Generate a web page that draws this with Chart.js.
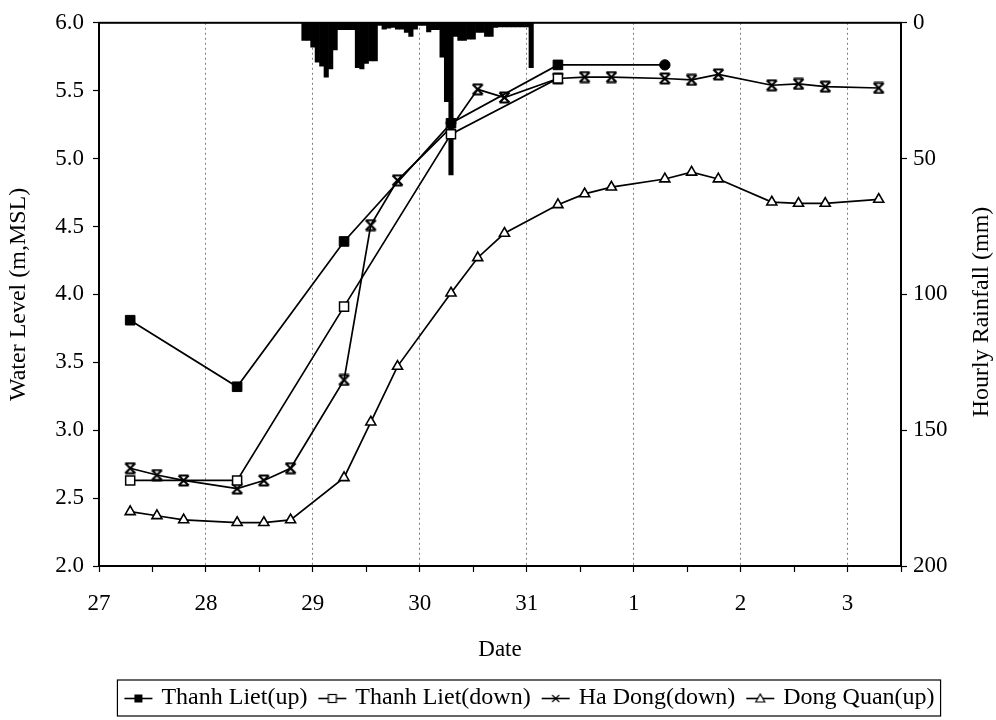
<!DOCTYPE html>
<html><head><meta charset="utf-8">
<script src="https://cdn.jsdelivr.net/npm/chart.js@4.4.0/dist/chart.umd.min.js"></script>
<style>html,body{margin:0;padding:0;background:#fff}#wrap{width:996px;height:720px}</style>
</head><body><div id="wrap"><canvas id="c" width="996" height="720"></canvas></div>
<script>
// ---- data (x in hours after 27th 00:00) ----
const dayLabels = ['27', '28', '29', '30', '31', '1', '2', '3'];
const seriesNames = ['Thanh Liet(up)', 'Thanh Liet(down)', 'Ha Dong(down)', 'Dong Quan(up)'];
const tlUpHours = [7, 31, 55, 79, 103, 127];
const tlUp = [3.81, 3.32, 4.39, 5.26, 5.69, 5.69];
const tlDownHours = [7, 31, 55, 79, 103];
const tlDown = [2.63, 2.63, 3.91, 5.18, 5.59];
const obsHours = [7, 13, 19, 31, 37, 43, 55, 61, 67, 79, 85, 91, 103, 109, 115, 127, 133, 139, 151, 157, 163, 175];
const haDong = [2.72, 2.67, 2.63, 2.57, 2.63, 2.72, 3.37, 4.51, 4.84, 5.23, 5.51, 5.45, 5.59, 5.60, 5.60, 5.59, 5.58, 5.62, 5.54, 5.55, 5.53, 5.52];
const dongQuan = [2.40, 2.37, 2.34, 2.32, 2.32, 2.34, 2.65, 3.06, 3.47, 4.01, 4.27, 4.45, 4.66, 4.74, 4.79, 4.85, 4.90, 4.85, 4.68, 4.67, 4.67, 4.70];
const rainStartHour = 46;
const rainfall = [6.5, 6.5, 9, 14.5, 16, 20, 17, 10, 2.5, 2.5, 2.5, 2.5, 16.5, 17, 15, 14, 14, 1, 2.3, 2, 1.7, 2.3, 2.3, 3.5, 5, 2.3, 1, 1, 3.4, 2.5, 2.5, 12.7, 29, 56, 5, 6.5, 6.5, 6, 6, 3.5, 3.5, 5, 5, 1.7, 1.5, 1.5, 1.5, 1.5, 1.5, 1.5, 1.5, 16.5];

const SERIF = '"Liberation Serif", "Times New Roman", serif';
const toPts = (hours, vals) => vals.map((v, i) => ({x: hours[i] / 24, y: v}));
const rainPts = rainfall.map((v, i) => ({x: (rainStartHour + i) / 24, y: v}));

// hourglass-like cross marker
function xMarker(size) {
  const c = document.createElement('canvas'); c.width = size; c.height = size;
  const g = c.getContext('2d'); g.strokeStyle = '#000'; g.lineWidth = 2.2;
  const p = 1.5, q = size - 1.5;
  g.beginPath(); g.moveTo(p, p); g.lineTo(q, q); g.moveTo(q, p); g.lineTo(p, q);
  g.moveTo(p, p); g.lineTo(q, p); g.moveTo(p, q); g.lineTo(q, q); g.stroke();
  return c;
}
const hdMarker = xMarker(13);

function legendIcon(kind) {
  const c = document.createElement('canvas'); c.width = 34; c.height = 14;
  const g = c.getContext('2d');
  g.strokeStyle = '#000'; g.lineWidth = 1.6;
  g.beginPath(); g.moveTo(3, 7.5); g.lineTo(31, 7.5); g.stroke();
  g.lineWidth = 1.2; g.fillStyle = '#000';
  if (kind === 0) { g.fillRect(13, 3.5, 8, 8); }
  else if (kind === 1) { g.fillStyle = '#fff'; g.fillRect(13, 3.5, 8, 8); g.strokeRect(13, 3.5, 8, 8); }
  else if (kind === 2) { g.beginPath(); g.moveTo(13.5, 4); g.lineTo(20.5, 11); g.moveTo(20.5, 4); g.lineTo(13.5, 11); g.stroke(); }
  else { g.fillStyle = '#fff'; g.beginPath(); g.moveTo(17, 3); g.lineTo(21.5, 11); g.lineTo(12.5, 11); g.closePath(); g.fill(); g.stroke(); }
  return c;
}
const legendIcons = [0, 1, 2, 3].map(legendIcon);

const LEGEND_SHIFT = 33;
const framePlugin = {
  id: 'frame',
  afterLayout(chart) {
    const lg = chart.legend;
    lg.left += LEGEND_SHIFT; lg.right += LEGEND_SHIFT;
  },
  afterDraw(chart) {
    const {ctx, chartArea: a} = chart;
    ctx.save();
    ctx.strokeStyle = '#000'; ctx.lineWidth = 2;
    ctx.strokeRect(a.left, a.top, a.right - a.left, a.bottom - a.top);
    // right axis title, reading bottom-to-top
    ctx.fillStyle = '#000';
    ctx.font = '24px ' + SERIF;
    ctx.textAlign = 'center'; ctx.textBaseline = 'middle';
    ctx.translate(982, 312);
    ctx.rotate(-Math.PI / 2);
    ctx.fillText('Hourly Rainfall (mm)', 0, 0);
    ctx.restore();
    // legend frame
    const lg = chart.legend;
    if (lg && lg.legendHitBoxes && lg.legendHitBoxes.length) {
      const lineW = lg.lineWidths[0];
      const pad = lg.options.labels.padding;
      const startX = (lg.left + pad + lg.right - lineW) / 2;
      const cy = lg.top + pad + lg.legendHitBoxes[0].height / 2;
      ctx.save();
      ctx.strokeStyle = '#000'; ctx.lineWidth = 1.2;
      ctx.strokeRect(startX - 10, cy - 18, lineW - pad + 16, 36);
      ctx.restore();
    }
  }
};

new Chart(document.getElementById('c'), {
  type: 'line',
  data: {
    datasets: [
      {label: seriesNames[0], data: toPts(tlUpHours, tlUp), yAxisID: 'y', borderColor: '#000', borderWidth: 1.7,
        pointStyle: ['rect', 'rect', 'rect', 'rect', 'rect', 'circle'], pointRadius: [6.8, 6.8, 6.8, 6.8, 6.8, 5.2], pointBackgroundColor: '#000', pointBorderColor: '#000', pointBorderWidth: 1},
      {label: seriesNames[1], data: toPts(tlDownHours, tlDown), yAxisID: 'y', borderColor: '#000', borderWidth: 1.7,
        pointStyle: 'rect', pointRadius: 6.4, pointBackgroundColor: '#fff', pointBorderColor: '#000', pointBorderWidth: 1.5},
      {label: seriesNames[2], data: toPts(obsHours, haDong), yAxisID: 'y', borderColor: '#000', borderWidth: 1.7,
        pointStyle: hdMarker, pointRadius: 6, pointBackgroundColor: '#000', pointBorderColor: '#000'},
      {label: seriesNames[3], data: toPts(obsHours, dongQuan), yAxisID: 'y', borderColor: '#000', borderWidth: 1.7,
        pointStyle: 'triangle', pointRadius: 5.8, pointBackgroundColor: '#fff', pointBorderColor: '#000', pointBorderWidth: 1.6},
      {type: 'bar', label: 'Hourly Rainfall', data: rainPts, yAxisID: 'y2', backgroundColor: '#000', borderWidth: 0,
        categoryPercentage: 1.0, barPercentage: 1.0}
    ]
  },
  options: {
    responsive: false,
    animation: false,
    devicePixelRatio: 1,
    layout: {padding: {top: 22, left: 0, right: 0, bottom: 0}},
    plugins: {
      tooltip: {enabled: false},
      legend: {
        position: 'bottom',
        labels: {
          color: '#000', font: {family: SERIF, size: 24}, padding: 14,
          usePointStyle: true, pointStyleWidth: 22, boxHeight: 14,
          generateLabels: () => seriesNames.map((n, i) => ({
            text: n, datasetIndex: i, pointStyle: legendIcons[i], fillStyle: '#000', strokeStyle: '#000', lineWidth: 0, hidden: false
          }))
        }
      }
    },
    scales: {
      x: {
        type: 'linear', min: 0, max: 7.5, offset: false,
        afterFit: (s) => { s.height = 106; },
        ticks: {stepSize: 0.5, autoSkip: false, maxRotation: 0, color: '#000', font: {family: SERIF, size: 23}, padding: 18,
          callback: (v) => Number.isInteger(v) ? dayLabels[v] : ''},
        grid: {
          offset: false,
          color: (ctx) => (ctx.tick && Number.isInteger(ctx.tick.value) && ctx.tick.value > 0) ? 'rgba(0,0,0,0.5)' : 'rgba(0,0,0,0)',
          lineWidth: 1, tickColor: '#000', tickLength: 6, tickWidth: 1.2
        },
        border: {color: '#000', width: 2, dash: [2, 3]},
        title: {display: true, text: 'Date', color: '#000', font: {family: SERIF, size: 23}, padding: {top: 4, bottom: 8}}
      },
      y: {
        position: 'left', min: 2, max: 6,
        afterFit: (s) => { s.width = 99; },
        ticks: {stepSize: 0.5, color: '#000', font: {family: SERIF, size: 23}, padding: 9, callback: (v) => v.toFixed(1)},
        grid: {drawOnChartArea: false, tickColor: '#000', tickLength: 6, tickWidth: 1.2},
        border: {color: '#000', width: 2},
        title: {display: true, text: 'Water Level (m,MSL)', color: '#000', font: {family: SERIF, size: 24}, padding: {top: 4, bottom: 4}}
      },
      y2: {
        position: 'right', reverse: true, min: 0, max: 200,
        afterFit: (s) => { s.width = 95; },
        ticks: {stepSize: 50, color: '#000', font: {family: SERIF, size: 23}, padding: 6},
        grid: {drawOnChartArea: false, tickColor: '#000', tickLength: 6, tickWidth: 1.2},
        border: {color: '#000', width: 2}
      }
    }
  },
  plugins: [framePlugin]
});
</script>
</body></html>
